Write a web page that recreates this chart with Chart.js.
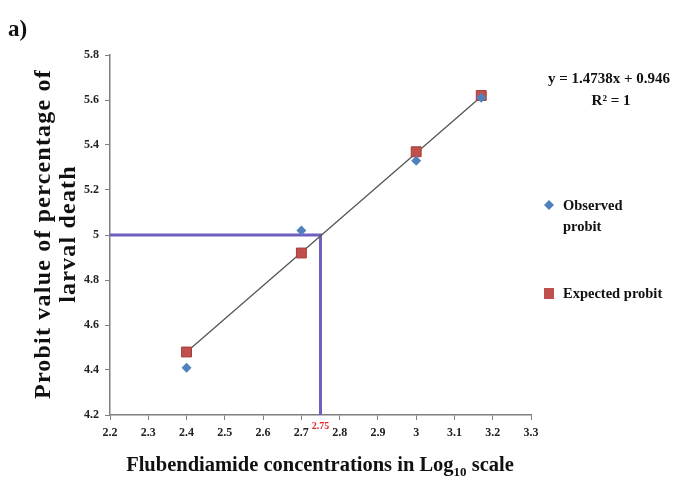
<!DOCTYPE html>
<html>
<head>
<meta charset="utf-8">
<script src="https://cdn.jsdelivr.net/npm/chart.js@4.4.1/dist/chart.umd.min.js"></script>
<style>
  html, body { margin: 0; padding: 0; background: #fff; }
  #wrap { width: 674px; height: 483px; position: relative; }
</style>
</head>
<body>
<div id="wrap"><canvas id="probitChart" width="674" height="483"></canvas></div>
<script>
// Log10 concentrations and probit values
const logConc = [2.4, 2.7, 3.0, 3.17];
const observedProbit = [4.41, 5.02, 5.33, 5.61];
const expectedProbit = [4.48, 4.92, 5.37, 5.62];

// regression line end points and the LC50 guide
const trendX = [2.4, 3.18];
const trendY = [4.48, 5.63];
const lc50X = 2.75;
const lc50Y = 5;

const xTicks = { min: 2.2, max: 3.3, step: 0.1 };
const yTicks = { min: 4.2, max: 5.8, step: 0.2 };

const equationText = ['y = 1.4738x + 0.946', 'R² = 1'];

const serif = "'Liberation Serif', 'Times New Roman', serif";
const axisColor = '#7f7f7f';

const toPoints = (xs, ys) => xs.map((x, i) => ({ x: x, y: ys[i] }));
// 2.20 -> "2.2", 3.00 -> "3"
const shortLabel = (v) => String(parseFloat(Number(v).toFixed(1)));

// Texts drawn around the plot: panel letter, axis titles, equation, legend
const decorPlugin = {
    id: 'decor',
    afterDraw(chart) {
        const ctx = chart.ctx;
        const xs = chart.scales.x;
        const ys = chart.scales.y;
        ctx.save();
        ctx.fillStyle = '#111';

        // panel letter
        ctx.font = `bold 23px ${serif}`;
        ctx.textAlign = 'left';
        ctx.textBaseline = 'middle';
        ctx.fillText('a)', 8, 30);

        // y axis title, two lines
        ctx.save();
        ctx.translate(44, 234);
        ctx.rotate(-Math.PI / 2);
        ctx.font = `bold 24px ${serif}`;
        ctx.textAlign = 'center';
        ctx.textBaseline = 'middle';
        ctx.letterSpacing = '1.2px';
        ctx.fillText('Probit value of percentage of', 0, 0);
        ctx.fillText('larval death', 0, 25);
        ctx.restore();

        // x axis title with subscript
        const partA = 'Flubendiamide concentrations in Log';
        const partSub = '10';
        const partB = ' scale';
        ctx.font = `bold 20.5px ${serif}`;
        const wA = ctx.measureText(partA).width;
        const wB = ctx.measureText(partB).width;
        ctx.font = `bold 13px ${serif}`;
        const wS = ctx.measureText(partSub).width;
        let tx = 320 - (wA + wS + wB) / 2;
        ctx.textAlign = 'left';
        ctx.textBaseline = 'alphabetic';
        ctx.font = `bold 20.5px ${serif}`;
        ctx.fillText(partA, tx, 471);
        tx += wA;
        ctx.font = `bold 13px ${serif}`;
        ctx.fillText(partSub, tx, 476);
        tx += wS;
        ctx.font = `bold 20.5px ${serif}`;
        ctx.fillText(partB, tx, 471);

        // LC50 value under the axis
        ctx.fillStyle = '#e8262b';
        ctx.font = `bold 10px ${serif}`;
        ctx.textAlign = 'center';
        ctx.textBaseline = 'middle';
        ctx.fillText('2.75', xs.getPixelForValue(lc50X), ys.bottom + 11);

        // regression equation
        ctx.fillStyle = '#111';
        ctx.font = `bold 15px ${serif}`;
        ctx.fillText(equationText[0], 609, 79);
        ctx.fillText(equationText[1], 611, 101);

        // legend
        ctx.font = `bold 14.5px ${serif}`;
        ctx.textAlign = 'left';
        ctx.fillText('Observed', 563, 206);
        ctx.fillText('probit', 563, 227);
        ctx.fillText('Expected probit', 563, 294);

        ctx.fillStyle = '#4f81bd';
        ctx.beginPath();
        ctx.moveTo(549, 200);
        ctx.lineTo(554, 205);
        ctx.lineTo(549, 210);
        ctx.lineTo(544, 205);
        ctx.closePath();
        ctx.fill();

        ctx.fillStyle = '#c0504d';
        ctx.fillRect(544, 288, 10, 11);
        ctx.restore();
    }
};

const ctx = document.getElementById('probitChart').getContext('2d');
new Chart(ctx, {
    type: 'scatter',
    data: {
        datasets: [
            {
                label: 'LC50',
                type: 'line',
                data: [
                    { x: xTicks.min, y: lc50Y },
                    { x: lc50X, y: lc50Y },
                    { x: lc50X, y: yTicks.min }
                ],
                borderColor: '#6f5fbf',
                borderWidth: 3,
                pointRadius: 0,
                fill: false,
                tension: 0,
                order: 3
            },
            {
                label: 'Trend',
                type: 'line',
                data: toPoints(trendX, trendY),
                borderColor: '#555555',
                borderWidth: 1.3,
                pointRadius: 0,
                fill: false,
                order: 2
            },
            {
                label: 'Expected probit',
                data: toPoints(logConc, expectedProbit),
                pointStyle: 'rect',
                pointRadius: 7,
                backgroundColor: '#c0504d',
                borderColor: '#a23c39',
                borderWidth: 1,
                order: 1
            },
            {
                label: 'Observed probit',
                data: toPoints(logConc, observedProbit),
                pointStyle: 'rectRot',
                pointRadius: 5,
                backgroundColor: '#4f81bd',
                borderColor: '#4f81bd',
                borderWidth: 0,
                order: 0
            }
        ]
    },
    options: {
        responsive: false,
        animation: false,
        layout: { padding: { top: 55, right: 143, left: 0, bottom: 0 } },
        plugins: {
            legend: { display: false },
            tooltip: { enabled: false }
        },
        scales: {
            x: {
                type: 'linear',
                min: xTicks.min,
                max: xTicks.max,
                afterFit: (scale) => { scale.height = 68; },
                ticks: {
                    stepSize: xTicks.step,
                    callback: shortLabel,
                    color: '#222',
                    padding: 6,
                    font: { family: serif, size: 12, weight: 'bold' }
                },
                grid: {
                    drawOnChartArea: false,
                    tickLength: 5,
                    color: axisColor
                },
                border: { color: axisColor, width: 1.5 }
            },
            y: {
                type: 'linear',
                min: yTicks.min,
                max: yTicks.max,
                afterFit: (scale) => { scale.width = 110; },
                ticks: {
                    stepSize: yTicks.step,
                    callback: shortLabel,
                    color: '#222',
                    padding: 6,
                    font: { family: serif, size: 12, weight: 'bold' }
                },
                grid: {
                    drawOnChartArea: false,
                    tickLength: 5,
                    color: axisColor
                },
                border: { color: axisColor, width: 1.5 }
            }
        }
    },
    plugins: [decorPlugin]
});
</script>
</body>
</html>
